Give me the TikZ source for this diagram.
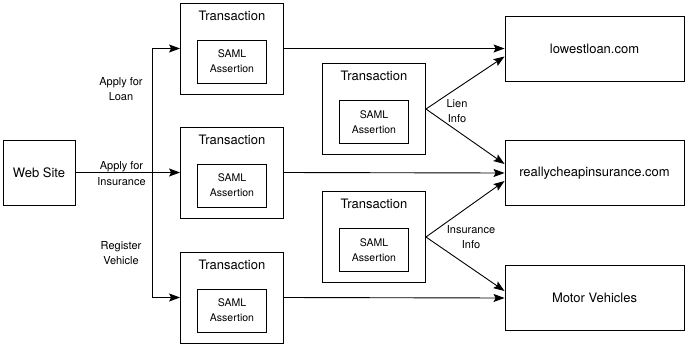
\documentclass[tikz,border=0pt]{standalone}
\usepackage{fontspec}
\setmainfont{TeX Gyre Heros}
\usetikzlibrary{arrows.meta,positioning}
\tikzset{
  site/.style={draw, line width=0.9pt, minimum width=179pt, minimum height=65pt, font=\fontsize{13}{15}\selectfont},
  trans/.style={draw, line width=0.9pt, minimum width=103pt, minimum height=91pt},
  transtitle/.style={font=\fontsize{13}{15}\selectfont, inner sep=0pt},
  saml/.style={draw, line width=0.9pt, minimum width=69pt, minimum height=43pt, inner sep=1pt, align=center, font=\fontsize{10.5}{15}\selectfont},
  flow/.style={line width=0.9pt, -{Stealth[length=11pt,width=8pt,inset=2pt]}},
  lbl/.style={align=center, font=\fontsize{11}{15.5}\selectfont}
}

\begin{document}
\begin{tikzpicture}[x=1pt, y=-1pt]
\useasboundingbox (0,0) rectangle (686,346);
% Web site
\node[draw, line width=0.9pt, minimum width=72pt, minimum height=65pt, font=\fontsize{13}{15}\selectfont] (web) at (39,172.5) {Web Site};
% Transactions with SAML assertions
\foreach \n/\x/\y in {t1/232/48.5, t2/232/172.5, t3/232/297.5, ta/374/109, tb/374/237} {
  \node[trans] (\n) at (\x,\y) {};
  \node[transtitle] (\n-title) at ([yshift=-13pt]\n.north) {Transaction};
  \node[saml] (\n-saml) at ([yshift=-13pt]\n.center) {SAML\\Assertion};
}
% Destinations
\node[site] (low) at (594.5,48.5) {lowestloan.com};
\node[site] (really) at (594.5,173) {reallycheapinsurance.com};
\node[site] (motor) at (594.5,298) {Motor Vehicles};
% Requests from the web site
\coordinate (split) at (152,172.5);
\draw[flow] (web) -- (t2);
\draw[flow] (split) |- (t1);
\draw[flow] (split) |- (t3);
\node[lbl] (loan) at (121,89) {Apply for\\Loan};
\node[lbl] (ins) at (121.5,173.5) {Apply for\\Insurance};
\node[lbl] (reg) at (121,253) {Register\\Vehicle};
% Transactions to destinations
\draw[flow] (t1) -- (low);
\draw[flow] (t2.east) -- (really.west);
\draw[flow] (t3.east) -- (motor.west);
\draw[flow] (ta.east) -- ([yshift=-8pt]low.west);
\draw[flow] (ta.east) -- ([yshift=9pt]really.west);
\draw[flow] (tb.east) -- ([yshift=-8pt]really.west);
\draw[flow] (tb.east) -- ([yshift=7pt]motor.west);
\node[lbl] (lien) at (457,111) {Lien\\Info};
\node[lbl] (insinfo) at (471,237) {Insurance\\Info};
\end{tikzpicture}
\end{document}
